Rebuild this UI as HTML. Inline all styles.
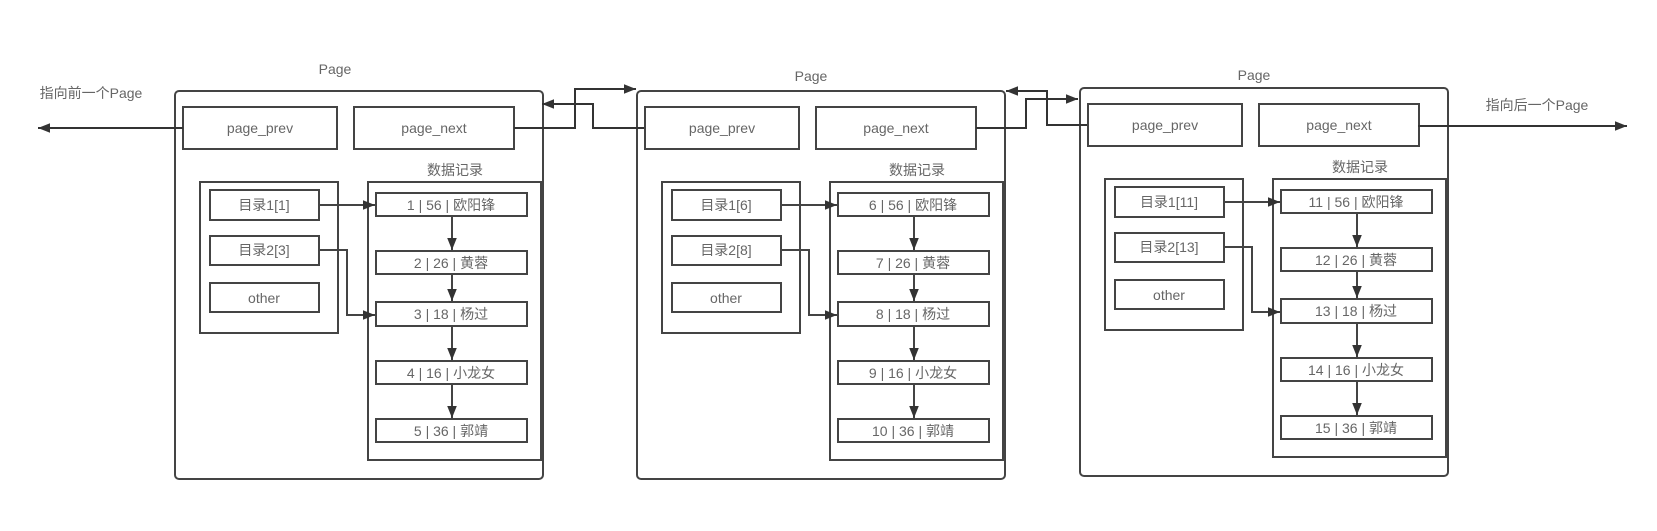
<!DOCTYPE html>
<html><head><meta charset="utf-8"><style>
html,body{margin:0;padding:0;background:#fff;}
svg text{font-family:"Liberation Sans","Noto Sans CJK SC",sans-serif;fill:#666;font-size:14px;text-anchor:middle;dominant-baseline:central;}
</style></head><body>
<svg width="1657" height="526" viewBox="0 0 1657 526" xmlns="http://www.w3.org/2000/svg">
<defs>
<marker id="a" viewBox="0 0 10 10" refX="10" refY="5" markerWidth="7" markerHeight="7" markerUnits="userSpaceOnUse" orient="auto"><path d="M0,0 L10,5 L0,10 z" fill="#333"/></marker>
<marker id="b" viewBox="0 0 10 10" refX="10" refY="5" markerWidth="12" markerHeight="12" markerUnits="userSpaceOnUse" orient="auto"><path d="M0,1 L10,5 L0,9 z" fill="#333"/></marker>
<g id="pg" fill="none" stroke="#444" stroke-width="2">
<rect x="175" y="91" width="368" height="388" rx="4"/>
<rect x="183" y="107" width="154" height="42"/>
<rect x="354" y="107" width="160" height="42"/>
<rect x="200" y="182" width="138" height="151"/>
<rect x="210" y="190" width="109" height="30"/>
<rect x="210" y="236" width="109" height="29"/>
<rect x="210" y="283" width="109" height="29"/>
<rect x="368" y="182" width="173" height="278"/>
<rect x="376" y="193" width="151" height="23"/>
<rect x="376" y="251" width="151" height="23"/>
<rect x="376" y="302" width="151" height="24"/>
<rect x="376" y="361" width="151" height="23"/>
<rect x="376" y="419" width="151" height="23"/>
<path d="M319 205 H375" marker-end="url(#b)"/>
<path d="M319 250 H347 V315 H375" marker-end="url(#b)"/>
<path d="M452 216 V250" marker-end="url(#b)"/>
<path d="M452 274 V301" marker-end="url(#b)"/>
<path d="M452 326 V360" marker-end="url(#b)"/>
<path d="M452 384 V418" marker-end="url(#b)"/>
</g>
</defs>

<use href="#pg"/>
<use href="#pg" transform="translate(462,0)"/>
<use href="#pg" transform="translate(905,-3)"/>

<g fill="none" stroke="#333" stroke-width="2">
<path d="M183 128 H38" marker-end="url(#b)"/>
<path d="M514 128 H575 V89 H636" marker-end="url(#b)"/>
<path d="M644 128 H593 V104 H542" marker-end="url(#b)"/>
<path d="M976 128 H1026 V99 H1078" marker-end="url(#b)"/>
<path d="M1087 125 H1047 V91 H1006" marker-end="url(#b)"/>
<path d="M1418 126 H1627" marker-end="url(#b)"/>
</g>

<text x="335" y="69">Page</text>
<text x="811" y="76">Page</text>
<text x="1254" y="75">Page</text>
<text x="91" y="93">指向前一个Page</text>
<text x="1537" y="105">指向后一个Page</text>

<g>
<text x="260" y="128">page_prev</text><text x="434" y="128">page_next</text>
<text x="455" y="170">数据记录</text>
<text x="264" y="205" font-size="13">目录1[1]</text>
<text x="264" y="250" font-size="13">目录2[3]</text>
<text x="264" y="298" font-size="13">other</text>
<text x="451" y="205">1 | 56 | 欧阳锋</text>
<text x="451" y="263">2 | 26 | 黄蓉</text>
<text x="451" y="314">3 | 18 | 杨过</text>
<text x="451" y="373">4 | 16 | 小龙女</text>
<text x="451" y="431">5 | 36 | 郭靖</text>
</g>
<g transform="translate(462,0)">
<text x="260" y="128">page_prev</text><text x="434" y="128">page_next</text>
<text x="455" y="170">数据记录</text>
<text x="264" y="205" font-size="13">目录1[6]</text>
<text x="264" y="250" font-size="13">目录2[8]</text>
<text x="264" y="298" font-size="13">other</text>
<text x="451" y="205">6 |  56 | 欧阳锋</text>
<text x="451" y="263">7 |  26 | 黄蓉</text>
<text x="451" y="314">8 |  18 | 杨过</text>
<text x="451" y="373">9 |  16 | 小龙女</text>
<text x="451" y="431">10 |  36 | 郭靖</text>
</g>
<g transform="translate(905,-3)">
<text x="260" y="128">page_prev</text><text x="434" y="128">page_next</text>
<text x="455" y="170">数据记录</text>
<text x="264" y="205" font-size="13">目录1[11]</text>
<text x="264" y="250" font-size="13">目录2[13]</text>
<text x="264" y="298" font-size="13">other</text>
<text x="451" y="205">11 |  56 | 欧阳锋</text>
<text x="451" y="263">12 |  26 | 黄蓉</text>
<text x="451" y="314">13 |  18 | 杨过</text>
<text x="451" y="373">14 |  16 | 小龙女</text>
<text x="451" y="431">15 |  36 | 郭靖</text>
</g>
</svg>
</body></html>
